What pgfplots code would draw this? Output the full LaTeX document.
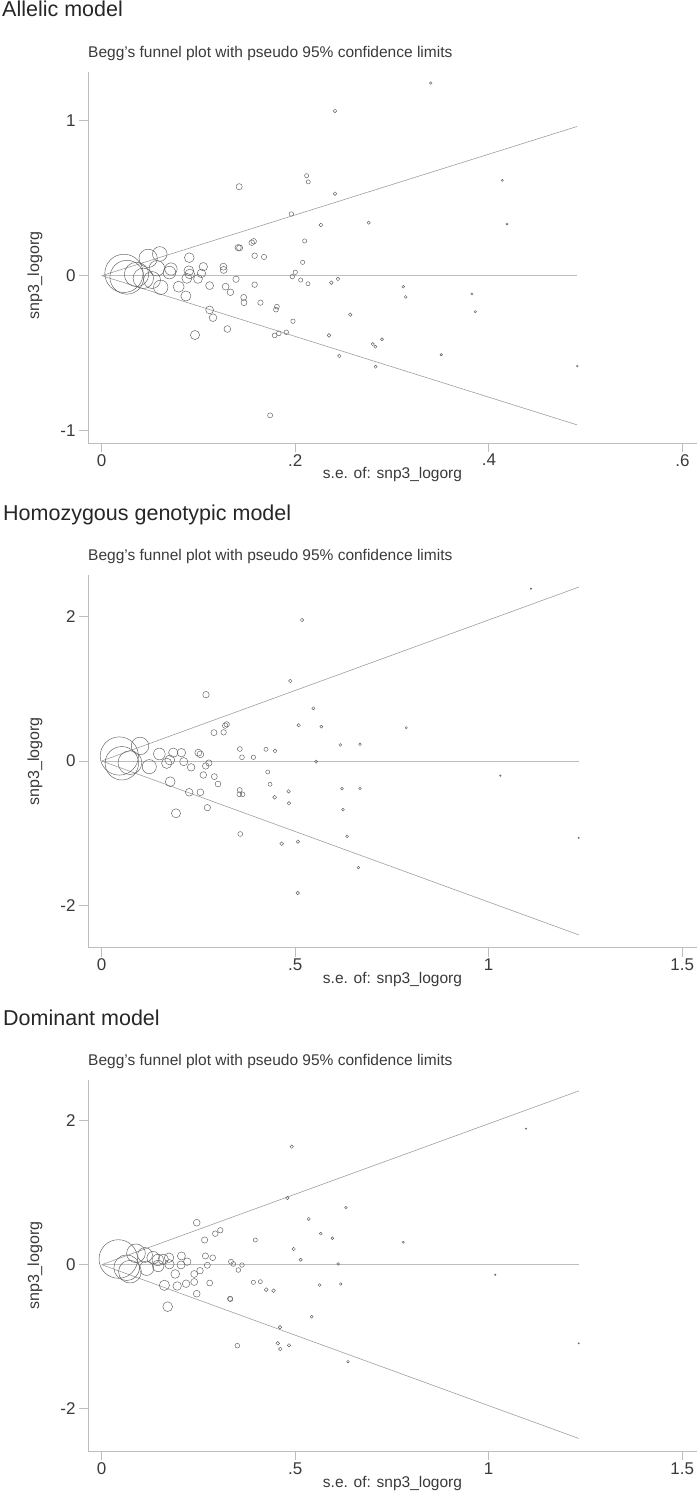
\documentclass[border=0pt]{standalone}
\usepackage{pgfplots}
\pgfplotsset{compat=1.18}
\usepackage{pgfplotstable}
\usepackage{fontspec}
\setmainfont{Liberation Sans}
\definecolor{axgray}{HTML}{BDBDBD}
\definecolor{lngray}{HTML}{9E9E9E}
\definecolor{mkgray}{HTML}{5E5E5E}
\definecolor{txgray}{HTML}{3A3A3A}

% Allelic model: se, logOR
\pgfplotstableread{
se lor
0.023 0.015
0.026 -0.010
0.036 0.008
0.043 -0.017
0.048 0.112
0.052 -0.028
0.057 0.048
0.060 0.140
0.061 -0.075
0.070 0.020
0.0716 0.043
0.0795 -0.071
0.087 -0.131
0.088 -0.017
0.090 0.032
0.0905 0.116
0.091 0.011
0.0964 -0.383
0.0995 -0.021
0.103 0.015
0.105 0.058
0.1115 -0.064
0.1115 -0.221
0.115 -0.271
0.1257 0.058
0.126 0.037
0.128 -0.071
0.1298 -0.344
0.133 -0.107
0.1388 -0.023
0.141 0.181
0.1425 0.179
0.142 0.574
0.1467 -0.140
0.147 -0.174
0.155 0.213
0.157 0.222
0.158 0.129
0.158 -0.058
0.164 -0.174
0.1677 0.121
0.174 -0.901
0.1787 -0.385
0.180 -0.219
0.181 -0.200
0.183 -0.372
0.1907 -0.365
0.1959 0.398
0.1969 -0.006
0.1976 -0.294
0.200 0.022
0.2056 -0.028
0.2076 0.086
0.2097 0.224
0.2117 0.645
0.2131 -0.052
0.2134 0.605
0.2265 0.327
0.2348 -0.385
0.2372 -0.045
0.241 1.063
0.241 0.529
0.244 -0.021
0.2455 -0.518
0.2568 -0.252
0.2758 0.342
0.280 -0.441
0.2827 -0.458
0.283 -0.587
0.2896 -0.410
0.3116 -0.071
0.314 -0.137
0.340 1.243
0.3508 -0.510
0.3825 -0.118
0.386 -0.232
0.4139 0.615
0.4187 0.334
0.4913 -0.583
}\dataA

% Homozygous genotypic model
\pgfplotstableread{
se lor
0.0455 0.069
0.052 -0.032
0.073 -0.023
0.099 0.208
0.123 -0.079
0.149 0.097
0.168 -0.032
0.176 0.014
0.177 -0.287
0.185 0.115
0.192 -0.725
0.206 0.115
0.212 -0.009
0.226 -0.434
0.231 -0.088
0.2497 0.115
0.255 0.092
0.255 -0.434
0.2625 -0.194
0.2687 -0.069
0.2695 0.919
0.273 -0.647
0.277 -0.028
0.290 0.393
0.291 -0.217
0.3005 -0.319
0.315 0.397
0.319 0.490
0.323 0.508
0.3556 -0.462
0.3566 -0.402
0.357 0.166
0.358 -1.012
0.3625 0.051
0.364 -0.462
0.392 0.051
0.4245 0.162
0.429 -0.152
0.435 -0.323
0.447 -0.503
0.4478 0.139
0.465 -1.146
0.483 -0.420
0.484 -0.587
0.4874 1.109
0.5065 -1.830
0.507 -1.118
0.509 0.495
0.5176 1.954
0.547 0.730
0.554 -0.009
0.5675 0.476
0.6165 0.222
0.621 -0.383
0.6235 -0.675
0.634 -1.044
0.663 -1.478
0.6674 0.231
0.6674 -0.383
0.787 0.460
1.030 -0.203
1.109 2.388
1.2326 -1.067
}\dataB

% Dominant model
\pgfplotstableread{
se lor
0.043 0.079
0.0646 -0.042
0.073 -0.097
0.0886 0.158
0.112 0.135
0.116 -0.050
0.133 0.097
0.145 0.065
0.146 -0.018
0.159 0.075
0.162 -0.286
0.1705 -0.583
0.174 0.097
0.175 0.006
0.190 -0.129
0.195 -0.296
0.205 -0.004
0.206 0.121
0.218 -0.264
0.221 0.042
0.239 -0.129
0.239 -0.240
0.2455 0.583
0.2455 -0.403
0.254 -0.083
0.266 0.343
0.268 0.121
0.273 -0.008
0.279 -0.254
0.2868 0.097
0.2935 0.431
0.3065 0.478
0.3315 -0.472
0.3325 -0.478
0.334 0.042
0.340 0.010
0.3504 -1.125
0.353 -0.074
0.3625 -0.004
0.392 -0.245
0.397 0.343
0.410 -0.236
0.425 -0.347
0.444 -0.361
0.455 -1.092
0.4607 -0.869
0.4615 -1.171
0.4796 0.926
0.484 -1.120
0.491 1.639
0.496 0.218
0.514 0.069
0.535 0.635
0.5426 -0.722
0.563 -0.282
0.566 0.431
0.596 0.367
0.611 0.010
0.6175 -0.268
0.631 0.792
0.6364 -1.347
0.779 0.311
1.017 -0.139
1.0964 1.889
1.2326 -1.092
}\dataC

\pgfplotsset{
  funnel/.style={
    scale only axis, width=609pt, clip=false,
    axis x line*=bottom, axis y line*=left, tick pos=left,
    x axis line style={-}, y axis line style={-},
    axis line style={draw=axgray, line width=0.9pt},
    tick align=outside, major tick length=9pt,
    tick style={draw=axgray, line width=0.9pt},
    tick label style={font=\fontsize{17}{20}\selectfont, text=txgray},
    xticklabel style={inner sep=2pt},
    every axis x label/.style={at={(axis description cs:0.5,0)}, anchor=base, yshift=-36pt,
      font=\fontsize{15.5}{18}\selectfont, text=txgray},
    every axis y label/.style={at={(axis description cs:-0.087,0.5)}, rotate=90, anchor=center,
      font=\fontsize{16}{18}\selectfont, text=txgray},
    every axis title/.style={at={(axis description cs:0,1)}, anchor=base west, inner sep=0pt,
      yshift=14.5pt, font=\fontsize{15.5}{18}\selectfont, text=txgray},
    title={Begg's funnel plot with pseudo 95\% confidence limits},
    xlabel={s.e. of: snp3\_logorg},
    ylabel={snp3\_logorg},
  },
  bubble/.style={scatter, only marks, mark=o,
    scatter/use mapped color={draw=mkgray},
    mark options={line width=0.45pt},
    visualization depends on={#1/\thisrow{se} \as \msz},
    scatter/@pre marker code/.append style={/tikz/mark size=\msz}},
  cline/.style={lngray, line width=0.6pt, no marks},
  mline/.style={axgray, line width=0.9pt, no marks},
}

\begin{document}
\begin{tikzpicture}[x=1pt,y=1pt]

\node[anchor=base west, inner sep=0pt, font=\fontsize{21.5}{25}\selectfont, text=black!85] at (2pt,1476.3pt) {Allelic model};
\node[anchor=base west, inner sep=0pt, font=\fontsize{21.5}{25}\selectfont, text=black!85] at (3pt,972.3pt) {Homozygous genotypic model};
\node[anchor=base west, inner sep=0pt, font=\fontsize{21.5}{25}\selectfont, text=black!85] at (3pt,467.3pt) {Dominant model};

\begin{axis}[funnel, at={(88pt,1050pt)}, anchor=south west, height=371pt,
  xmin=-0.01415, xmax=0.615, ymin=-1.0794, ymax=1.3142,
  xtick={0,0.2,0.4,0.6}, xticklabels={0,.2,.4,.6},
  ytick={-1,0,1}, yticklabels={-1,0,1},
  ylabel style={at={(axis description cs:-0.087,0.451)}}]
  \addplot[mline] coordinates {(0,0) (0.4913,0)};
  \addplot[cline] coordinates {(0,0) (0.4913,0.963)};
  \addplot[cline] coordinates {(0,0) (0.4913,-0.963)};
  \addplot[bubble=0.44] table[x=se,y=lor]{\dataA};
\end{axis}

\begin{axis}[funnel, at={(88pt,545.3pt)}, anchor=south west, height=372.7pt,
  xmin=-0.0354, xmax=1.5382, ymin=-2.588, ymax=2.578,
  xtick={0,0.5,1,1.5}, xticklabels={0,.5,1,1.5},
  ytick={-2,0,2}, yticklabels={-2,0,2}]
  \addplot[mline] coordinates {(0,0) (1.2326,0)};
  \addplot[cline] coordinates {(0,0) (1.2326,2.41)};
  \addplot[cline] coordinates {(0,0) (1.2326,-2.41)};
  \addplot[bubble=0.87] table[x=se,y=lor]{\dataB};
\end{axis}

\begin{axis}[funnel, at={(88pt,41.6pt)}, anchor=south west, height=371.4pt,
  xmin=-0.0354, xmax=1.5382, ymin=-2.593, ymax=2.565,
  xtick={0,0.5,1,1.5}, xticklabels={0,.5,1,1.5},
  ytick={-2,0,2}, yticklabels={-2,0,2}]
  \addplot[mline] coordinates {(0,0) (1.2326,0)};
  \addplot[cline] coordinates {(0,0) (1.2326,2.413)};
  \addplot[cline] coordinates {(0,0) (1.2326,-2.413)};
  \addplot[bubble=0.83] table[x=se,y=lor]{\dataC};
\end{axis}

\pgfresetboundingbox
\useasboundingbox (0,0) rectangle (697pt,1493pt);
\end{tikzpicture}
\end{document}
